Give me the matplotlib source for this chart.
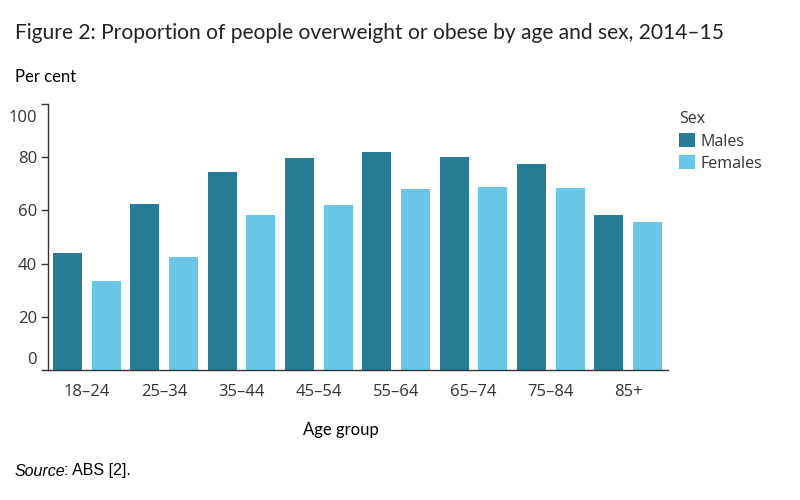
import matplotlib
matplotlib.use("Agg")
import matplotlib.pyplot as plt
import matplotlib.transforms as mtransforms
import numpy as np

categories = ["18–24", "25–34", "35–44", "45–54", "55–64", "65–74", "75–84", "85+"]
males = [44.0, 62.4, 74.4, 79.7, 82.0, 80.1, 77.4, 58.3]
females = [33.5, 42.5, 58.3, 62.0, 68.0, 68.8, 68.4, 55.6]
yticks = [0, 20, 40, 60, 80, 100]

c_m = "#287C96"
c_f = "#68C6E6"
txt = "#333333"

fig = plt.figure(figsize=(8, 5), dpi=100)
ax = fig.add_axes([0.06, 0.26, 0.775, 0.532])

x = np.arange(len(categories))
w = 0.375
bm = ax.bar(x, males, width=w, color=c_m, label="Males")
bf = ax.bar(x + 0.5, females, width=w, color=c_f, label="Females")

ax.set_xlim(-0.252, 7.765)
ax.set_ylim(0, 100)
ax.set_xticks(x + 0.25)
ax.set_xticklabels(categories, fontsize=12, color=txt, family="Open Sans")
ax.tick_params(axis="x", length=0, pad=10)
ax.set_yticks(yticks)
ax.set_yticklabels([str(v) for v in yticks], fontsize=12, color=txt, family="Open Sans")
ax.tick_params(axis="y", length=5, width=1, color="#333333", pad=3)
for s in ["top", "right"]:
    ax.spines[s].set_visible(False)
for s in ["left", "bottom"]:
    ax.spines[s].set_color("#333333")
    ax.spines[s].set_linewidth(1)

labs = ax.get_yticklabels()
labs[0].set_transform(labs[0].get_transform() + mtransforms.ScaledTranslation(0, 12/100, fig.dpi_scale_trans))
labs[-1].set_transform(labs[-1].get_transform() + mtransforms.ScaledTranslation(0, -12/100, fig.dpi_scale_trans))

fig.text(341/800, 1 - 430/500, "Age group", fontsize=12, color="black", family="Lato",
         ha="center", va="center")

fig.text(15/800, 1 - 33/500, "Figure 2: Proportion of people overweight or obese by age and sex, 2014–15",
         fontsize=15.1, color="#222222", family="Lato", va="center", ha="left")
fig.text(15/800, 1 - 77/500, "Per cent", fontsize=12, color="black", family="Lato", va="center", ha="left")
t1 = fig.text(15/800, 1 - 471/500, "Source", fontsize=11.5, color="black", style="italic",
              family="Liberation Sans", va="center", ha="left")
fig.canvas.draw()
bb = t1.get_window_extent()
fig.text((bb.x1 - 1.5) / 800, 1 - 471/500, ": ABS [2].", fontsize=11.5, color="black",
         family="Liberation Sans", va="center", ha="left")

leg = fig.legend(handles=[bm, bf], labels=["Males", "Females"], title="Sex",
                 loc="upper left", bbox_to_anchor=(665/800, 1 - 97/500), frameon=False,
                 handlelength=1.0, handleheight=1.0,
                 handletextpad=0.3, labelspacing=0.35, alignment="left",
                 prop={"family": "Open Sans", "size": 11.5})
leg.get_title().set_color(txt)
leg.get_title().set_family("Open Sans")
leg.get_title().set_fontsize(11.5)
for t in leg.get_texts():
    t.set_color(txt)

fig.savefig("out.png", dpi=100)
